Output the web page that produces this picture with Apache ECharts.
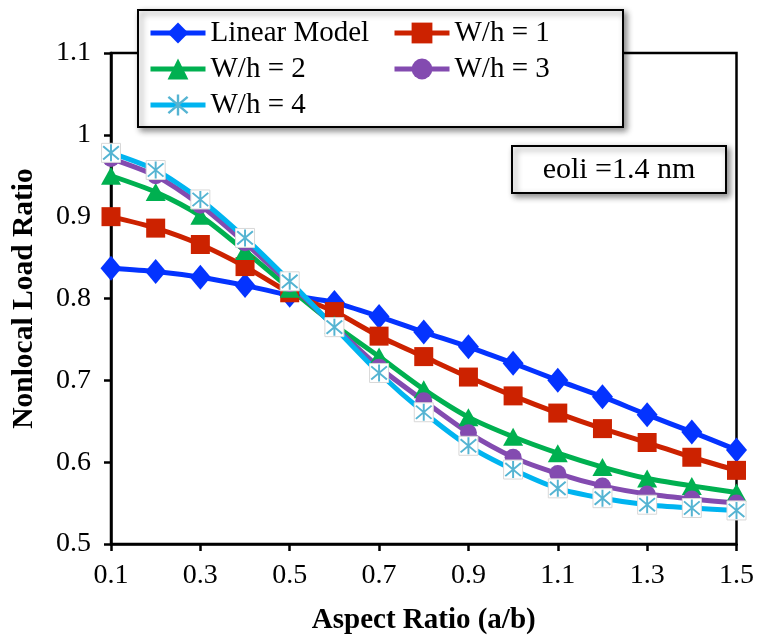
<!DOCTYPE html>
<html>
<head>
<meta charset="utf-8">
<script src="https://cdn.jsdelivr.net/npm/echarts@6/dist/echarts.min.js"></script>
<style>html,body{margin:0;padding:0;background:#fff}#c{width:757px;height:641px}</style>
</head>
<body>
<div id="c"></div>
<script>
// ---- data ----
const aspectRatio = ['0.1','0.2','0.3','0.4','0.5','0.6','0.7','0.8','0.9','1.0','1.1','1.2','1.3','1.4','1.5'];
const xTickLabels = ['0.1','0.3','0.5','0.7','0.9','1.1','1.3','1.5'];
const linearModel = [0.837,0.833,0.826,0.816,0.804,0.795,0.778,0.759,0.741,0.721,0.700,0.680,0.658,0.637,0.615];
const wh1 = [0.900,0.886,0.866,0.839,0.807,0.784,0.754,0.729,0.704,0.681,0.660,0.641,0.624,0.606,0.590];
const wh2 = [0.950,0.930,0.901,0.858,0.812,0.768,0.729,0.689,0.655,0.631,0.611,0.594,0.580,0.571,0.563];
const wh3 = [0.971,0.950,0.914,0.868,0.818,0.766,0.716,0.675,0.636,0.606,0.586,0.571,0.561,0.555,0.550];
const wh4 = [0.978,0.957,0.921,0.874,0.821,0.765,0.709,0.661,0.620,0.591,0.568,0.556,0.548,0.544,0.541];
const seriesNames = ['Linear Model','W/h = 1','W/h = 2','W/h = 3','W/h = 4'];
const annotation = 'eoli =1.4 nm';

const SERIF = 'Liberation Serif';
const ASTERISK = 'path://M9 1L11 1L11 19L9 19Z M2.66 2.25L18.66 16.25L17.34 17.75L1.34 3.75Z M17.34 2.25L18.66 3.75L2.66 17.75L1.34 16.25Z';
const xLabelSet = new Set(xTickLabels);

function lineSeries(name, data, color, symbol, size, extra) {
  return Object.assign({
    name: name, type: 'line', data: data, smooth: 0.25,
    symbol: symbol, symbolSize: size, showSymbol: true,
    lineStyle: { color: color, width: 5 },
    itemStyle: { color: color },
    emphasis: { disabled: true },
    clip: false, animation: false
  }, extra || {});
}

const legendCommon = {
  orient: 'vertical', top: 18, padding: 0, itemGap: 6, itemWidth: 55, itemHeight: 26, z: 10,
  selectedMode: false,
  lineStyle: { width: 5 },
  textStyle: { fontFamily: SERIF, fontSize: 29, color: '#000', lineHeight: 30 }
};

const chart = echarts.init(document.getElementById('c'), null, { renderer: 'canvas' });
chart.setOption({
  backgroundColor: '#fff',
  animation: false,
  grid: { left: 111, right: 19, top: 53, bottom: 97, show: true, borderColor: '#000', borderWidth: 2.5, backgroundColor: 'transparent' },
  xAxis: {
    type: 'category', data: aspectRatio, boundaryGap: false,
    name: 'Aspect Ratio (a/b)', nameLocation: 'middle', nameGap: 62,
    nameTextStyle: { fontFamily: SERIF, fontWeight: 'bold', fontSize: 29, color: '#000' },
    axisLine: { lineStyle: { color: '#000', width: 2.5 } },
    axisTick: { show: true, length: 7, lineStyle: { color: '#000', width: 2.5 }, interval: (i, v) => xLabelSet.has(v) },
    axisLabel: { fontFamily: SERIF, fontSize: 28, color: '#000', margin: 18, interval: (i, v) => xLabelSet.has(v) },
    splitLine: { show: false }
  },
  yAxis: {
    type: 'value', min: 0.5, max: 1.1, interval: 0.1,
    name: 'Nonlocal Load Ratio', nameLocation: 'middle', nameGap: 72,
    nameTextStyle: { fontFamily: SERIF, fontWeight: 'bold', fontSize: 29.5, color: '#000' },
    axisLine: { show: true, lineStyle: { color: '#000', width: 2.5 } },
    axisTick: { show: true, length: 7, lineStyle: { color: '#000', width: 2.5 } },
    axisLabel: { fontFamily: SERIF, fontSize: 28, color: '#000', margin: 20,
      formatter: v => String(parseFloat(v.toFixed(2))) },
    splitLine: { show: false }
  },
  legend: [
    Object.assign({}, legendCommon, { left: 148, data: ['Linear Model','W/h = 2','W/h = 4'] }),
    Object.assign({}, legendCommon, { left: 392, data: ['W/h = 1','W/h = 3'] })
  ],
  graphic: [
    { type: 'rect', z: 5, shape: { x: 138, y: 10, width: 485, height: 117 },
      style: { fill: '#fff', stroke: '#000', lineWidth: 2, shadowBlur: 6, shadowOffsetX: 3, shadowOffsetY: 3, shadowColor: 'rgba(0,0,0,0.45)' } },
    { type: 'rect', z: 5, shape: { x: 512, y: 146, width: 214, height: 47 },
      style: { fill: '#fff', stroke: '#000', lineWidth: 2, shadowBlur: 6, shadowOffsetX: 3, shadowOffsetY: 3, shadowColor: 'rgba(0,0,0,0.45)' } },
    { type: 'text', z: 6, x: 619, y: 170,
      style: { text: annotation, font: '30px "Liberation Serif"', fill: '#000', align: 'center', verticalAlign: 'middle' } }
  ],
  series: [
    lineSeries(seriesNames[0], linearModel, '#0433FF', 'diamond', [21, 25]),
    lineSeries(seriesNames[1], wh1, '#CC2200', 'rect', 19),
    lineSeries(seriesNames[2], wh2, '#00B050', 'triangle', [20, 18]),
    lineSeries(seriesNames[3], wh3, '#834BB0', 'circle', 17),
    lineSeries(seriesNames[4], wh4, '#00B4F0', ASTERISK, 17, { itemStyle: { color: '#55B4D2' } }),
    // white square marker backgrounds for W/h = 4 (same data)
    lineSeries('W/h = 4 marker', wh4, '#fff', 'rect', 19, {
      lineStyle: { width: 0, opacity: 0 },
      itemStyle: { color: '#fff', borderColor: '#d8d8d8', borderWidth: 1 } }),
    lineSeries('W/h = 4 star', wh4, '#55B4D2', ASTERISK, 17, {
      lineStyle: { width: 0, opacity: 0 }, itemStyle: { color: '#55B4D2' } })
  ]
});
</script>
</body>
</html>
